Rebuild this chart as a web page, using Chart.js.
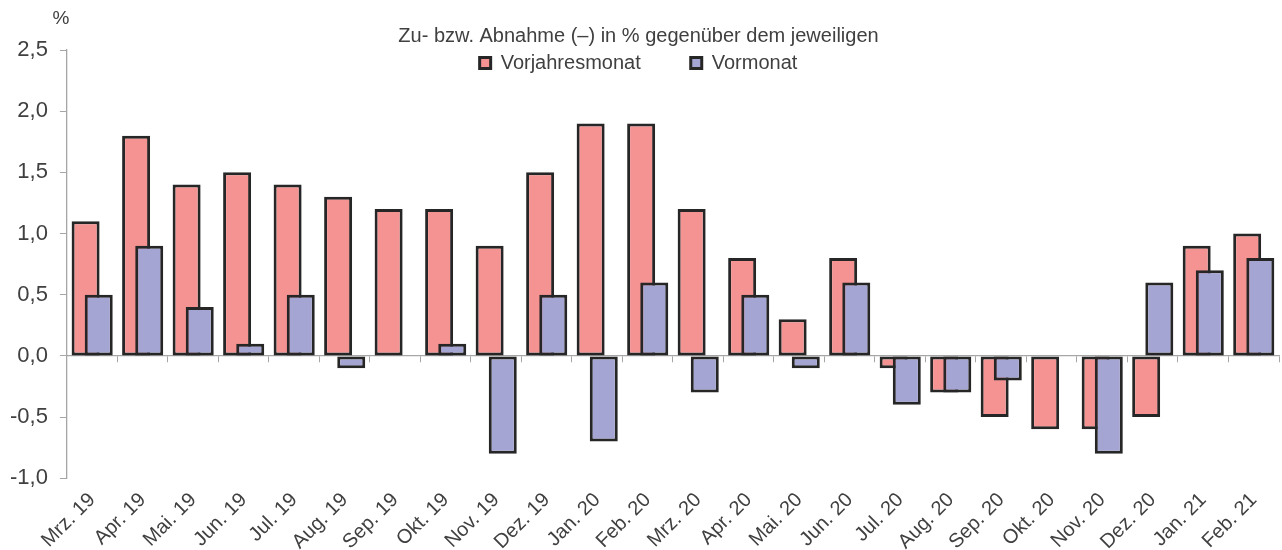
<!DOCTYPE html>
<html lang="de">
<head>
<meta charset="UTF-8">
<title>Zu- bzw. Abnahme gegenüber Vorjahresmonat und Vormonat</title>
<script src="https://cdn.jsdelivr.net/npm/chart.js@4"></script>
<style>
  html, body { margin: 0; padding: 0; background: #fff; }
  #wrap { width: 1282px; height: 550px; }
</style>
</head>
<body>
<div id="wrap"><canvas id="grafik" width="1282" height="550"></canvas></div>
<script>
// Daten
const monate = ['Mrz. 19', 'Apr. 19', 'Mai. 19', 'Jun. 19', 'Jul. 19', 'Aug. 19', 'Sep. 19', 'Okt. 19',
  'Nov. 19', 'Dez. 19', 'Jan. 20', 'Feb. 20', 'Mrz. 20', 'Apr. 20', 'Mai. 20', 'Jun. 20',
  'Jul. 20', 'Aug. 20', 'Sep. 20', 'Okt. 20', 'Nov. 20', 'Dez. 20', 'Jan. 21', 'Feb. 21'];
const vorjahresmonat = [1.1, 1.8, 1.4, 1.5, 1.4, 1.3, 1.2, 1.2, 0.9, 1.5, 1.9, 1.9,
  1.2, 0.8, 0.3, 0.8, -0.1, -0.3, -0.5, -0.6, -0.6, -0.5, 0.9, 1.0];
const vormonat = [0.5, 0.9, 0.4, 0.1, 0.5, -0.1, 0.0, 0.1, -0.8, 0.5, -0.7, 0.6,
  -0.3, 0.5, -0.1, 0.6, -0.4, -0.3, -0.2, 0.0, -0.8, 0.6, 0.7, 0.8];
const yTicks = [-1.0, -0.5, 0.0, 0.5, 1.0, 1.5, 2.0, 2.5];

const schrift = '"Liberation Sans", Arial, sans-serif';
const textFarbe = '#404040';
const achsenFarbe = '#a6a6a6';
const versatz = 0.13; // Balken eines Monats überlappen sich

Chart.defaults.font.family = schrift;
Chart.defaults.color = textFarbe;

// "%" über der y-Achse
const prozentZeichen = {
  id: 'prozentZeichen',
  afterDraw(chart) {
    const { ctx, chartArea, scales } = chart;
    ctx.save();
    ctx.font = '19px ' + schrift;
    ctx.fillStyle = textFarbe;
    ctx.textAlign = 'center';
    ctx.textBaseline = 'middle';
    ctx.fillText('%', scales.y.right - 6, chartArea.top - 31);
    ctx.restore();
  }
};

// Legende ragt in die Zeichenfläche hinein
const legendeAufschieben = {
  id: 'legendeAufschieben',
  afterLayout(chart) {
    const l = chart.legend;
    l.height = 90;
    l.bottom = l.top + 90;
  }
};

new Chart(document.getElementById('grafik'), {
  type: 'bar',
  data: {
    labels: monate,
    datasets: [
      {
        label: 'Vorjahresmonat',
        xAxisID: 'xl',
        data: monate.map((m, i) => ({ x: i - versatz, y: vorjahresmonat[i] })),
        backgroundColor: '#f59393',
        borderColor: '#262626',
        order: 2
      },
      {
        label: 'Vormonat',
        xAxisID: 'xl',
        data: monate.map((m, i) => ({ x: i + versatz, y: vormonat[i] })),
        backgroundColor: '#a5a5d3',
        borderColor: '#262626',
        order: 1
      }
    ]
  },
  options: {
    responsive: false,
    animation: false,
    layout: { padding: { left: -2, right: 3, top: 0, bottom: -6 } },
    datasets: {
      bar: {
        grouped: false,
        borderWidth: 3,
        borderSkipped: false,
        barPercentage: 1,
        categoryPercentage: 4,
        maxBarThickness: 28
      }
    },
    plugins: {
      tooltip: { enabled: false },
      legend: {
        position: 'top',
        maxHeight: 50,
        labels: {
          font: { size: 20 },
          color: textFarbe,
          boxWidth: 11,
          boxHeight: 11,
          padding: 50,
          sort: (a, b) => a.datasetIndex - b.datasetIndex
        },
        title: {
          display: true,
          text: 'Zu- bzw. Abnahme (–) in % gegenüber dem jeweiligen',
          font: { size: 20 },
          color: textFarbe,
          padding: { top: 26, bottom: -47 }
        }
      }
    },
    scales: {
      x: {
        type: 'category',
        labels: monate,
        position: 'bottom',
        offset: true,
        grid: { display: false },
        border: { display: false },
        ticks: { autoSkip: false, minRotation: 45, maxRotation: 45, font: { size: 20 }, color: textFarbe, padding: 2 }
      },
      x2: {
        type: 'category',
        axis: 'x',
        labels: monate,
        position: { y: 0 },
        offset: true,
        grid: { offset: true, drawOnChartArea: false, tickLength: 6, color: achsenFarbe },
        border: { color: achsenFarbe, width: 1.3 },
        ticks: { display: false }
      },
      xl: {
        type: 'linear',
        display: false,
        offset: false,
        min: -0.5,
        max: monate.length - 0.5
      },
      y: {
        min: yTicks[0],
        max: yTicks[yTicks.length - 1],
        ticks: {
          stepSize: 0.5,
          font: { size: 22 },
          color: textFarbe,
          padding: 12,
          callback: v => v.toFixed(1).replace('.', ',')
        },
        grid: { drawOnChartArea: false, tickLength: 7, color: achsenFarbe },
        border: { color: achsenFarbe, width: 1.3 }
      }
    }
  },
  plugins: [prozentZeichen, legendeAufschieben]
});
</script>
</body>
</html>
